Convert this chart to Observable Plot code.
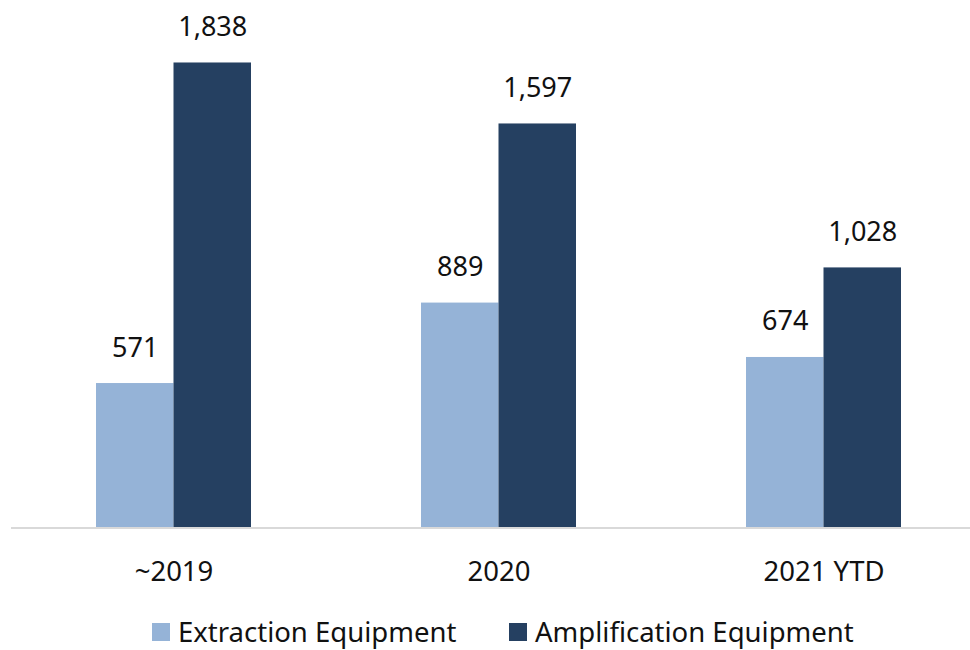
<!DOCTYPE html>
<html>
<head>
<meta charset="utf-8">
<script src="https://cdn.jsdelivr.net/npm/d3@7"></script>
<script src="https://cdn.jsdelivr.net/npm/@observablehq/plot@0.6"></script>
<style>
  html, body { margin: 0; padding: 0; background: #fff; overflow: hidden; }
  body { width: 970px; height: 650px; font-family: "Noto Sans", sans-serif; }
  #legend { position: relative; height: 50px; }
  .item { position: absolute; top: 13px; display: flex; align-items: center; font-size: 27.5px; color: #111; white-space: nowrap; }
  .sw { width: 18px; height: 18px; margin-right: 8px; }
</style>
</head>
<body>
<div id="chart"></div>
<div id="legend"></div>
<script>
const categories = ["~2019", "2020", "2021 YTD"];
const seriesNames = ["Extraction Equipment", "Amplification Equipment"];
const extraction = [571, 889, 674];
const amplification = [1838, 1597, 1028];
const colors = ["#95B3D7", "#254061"];

const rows = categories.map((c, i) => ({category: c, extraction: extraction[i], amplification: amplification[i]}));
const fmt = d3.format(",");

const half = 155 / 2;
const chart = Plot.plot({
  width: 970,
  height: 600,
  marginLeft: 11,
  marginRight: 0,
  marginTop: 21.5,
  marginBottom: 72.5,
  style: {fontFamily: "Noto Sans, sans-serif", fontSize: "27.5px", color: "#111", background: "#fff"},
  x: {domain: categories, range: [11, 986], paddingInner: 0.523, paddingOuter: 0.2615, tickSize: 0, tickPadding: 33, label: null},
  y: {domain: [0, 2000], axis: null},
  marks: [
    Plot.barY(rows, {x: "category", y: "extraction", fill: colors[0], insetRight: half}),
    Plot.barY(rows, {x: "category", y: "amplification", fill: colors[1], insetLeft: half}),
    Plot.ruleY([0], {stroke: "#D9D9D9", strokeWidth: 2}),
    Plot.text(rows, {x: "category", y: "extraction", text: d => fmt(d.extraction), dx: -half / 2, dy: -27, lineAnchor: "bottom", fontSize: 27, fill: "#111"}),
    Plot.text(rows, {x: "category", y: "amplification", text: d => fmt(d.amplification), dx: half / 2, dy: -27, lineAnchor: "bottom", fontSize: 27, fill: "#111"})
  ]
});
document.getElementById("chart").appendChild(chart);

const legend = document.getElementById("legend");
const lefts = [152, 509];
seriesNames.forEach((name, i) => {
  const item = document.createElement("div");
  item.className = "item";
  item.style.left = lefts[i] + "px";
  const sw = document.createElement("span");
  sw.className = "sw";
  sw.style.background = colors[i];
  const label = document.createElement("span");
  label.textContent = name;
  item.appendChild(sw);
  item.appendChild(label);
  legend.appendChild(item);
});
</script>
</body>
</html>
